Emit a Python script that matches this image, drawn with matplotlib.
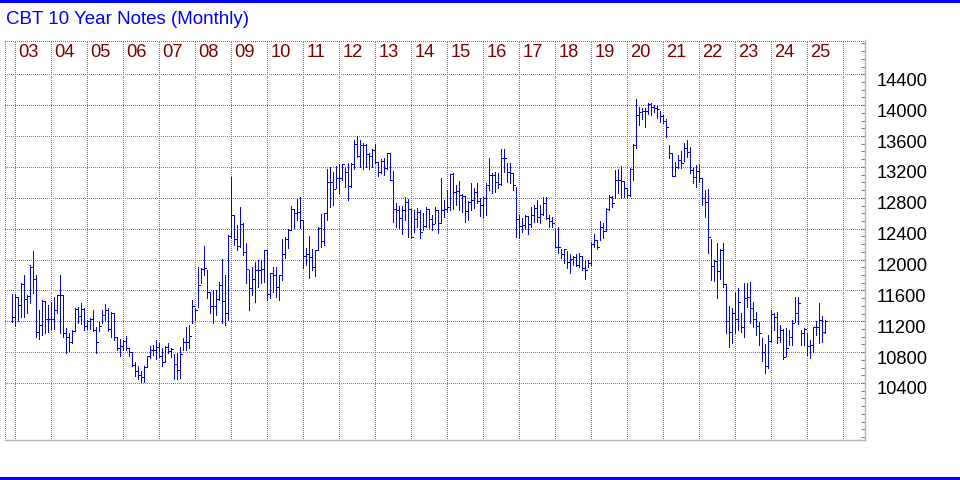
import matplotlib
matplotlib.use("Agg")
import matplotlib.pyplot as plt
import matplotlib.transforms as mtransforms
from matplotlib.lines import Line2D
import numpy as np

# ---- data: monthly high / low / close, Dec 2002 .. Jul 2025 ----
first_month = "2002-12"
highs = [11553,11553,11518,11690,11798,11540,11926,12107,11798,11346,11475,11466,11410,11454,11509,11540,11798,11540,11118,11045,
         11088,11368,11389,11432,11368,11217,11247,11346,11122,11196,11346,11423,11368,11325,11312,10993,10968,10959,11015,10852,
         10800,10671,10615,10550,10615,10753,10882,10895,10959,10916,10852,10873,10916,10857,10775,10784,10870,10978,11130,11151,
         11475,11367,11907,11886,12175,11864,11583,11605,11605,11713,12002,11799,12318,13073,12577,12447,12685,12469,12209,11864,
         11907,11972,11993,11993,12123,12123,11829,11907,11907,11799,12261,12287,12391,12693,12650,12780,12814,12512,12145,12304,
         12132,12123,12425,12590,12598,13168,13195,13138,13212,13238,13238,13203,13246,13255,13549,13601,13549,13506,13497,13385,
         13432,13497,13268,13298,13311,13376,13376,13147,12737,12693,12693,12806,12780,12650,12642,12663,12642,12598,12676,12650,
         12577,12676,12642,13052,12771,12901,13108,13117,12966,13017,12849,12823,12763,12996,12922,12996,12793,12806,12987,13311,
         13126,13139,13117,13428,13428,13255,13247,13117,12944,12577,12534,12577,12564,12676,12707,12771,12707,12806,12815,12577,
         12555,12413,12417,12132,12132,12115,12072,12050,12072,12080,12046,11994,11994,12231,12331,12253,12504,12469,12663,12836,
         12823,13160,13169,13212,13022,12923,13182,13497,14076,13981,13959,13959,14024,14033,14003,13990,13929,13873,13817,13483,
         13375,13267,13354,13410,13514,13548,13453,13203,13224,13237,13051,12900,12909,12261,11993,12209,12131,12209,11682,11397,
         11367,11583,11626,11302,11700,11700,11712,11453,11324,11194,10980,10900,11021,11345,11302,11324,11151,11095,11108,11086,
         11216,11518,11518,11086,11108,11043,10956,11129,11203,11440,11267,11216]
lows = [11196,11144,11208,11260,11251,11312,11432,11561,11002,10968,11024,11045,11066,11097,11097,11312,11054,11002,10787,10809,
        10916,11079,11174,11161,11088,11097,11097,11079,10787,11075,11183,11217,11079,11002,10959,10830,10744,10830,10830,10744,
        10615,10486,10456,10409,10409,10602,10722,10765,10714,10735,10615,10671,10787,10741,10447,10456,10460,10827,10827,10849,
        11173,11216,11389,11700,11799,11497,11302,11173,11281,11475,11173,11151,11216,12274,12188,12123,12166,12058,11691,11345,
        11540,11453,11648,11691,11713,11475,11497,11583,11518,11475,11734,12015,12145,12382,12404,12512,12404,11885,11929,11756,
        11864,11786,12123,12166,12188,12512,12676,12706,12922,12858,13030,12944,12771,12944,13169,13333,13203,13169,13203,13169,
        13203,13246,13082,13117,13095,13169,13030,12490,12426,12404,12331,12512,12296,12274,12361,12426,12274,12382,12426,12404,
        12382,12469,12339,12469,12555,12620,12642,12650,12706,12642,12620,12490,12512,12642,12663,12728,12564,12555,12577,12901,
        12858,12879,12923,12966,13138,13009,12996,12901,12296,12283,12361,12391,12331,12426,12491,12491,12478,12577,12521,12417,
        12417,12167,12080,12015,11959,11886,11830,11929,11916,11907,11864,11743,11907,11929,12167,12132,12253,12275,12370,12642,
        12685,12793,12858,12793,12815,12793,12823,13031,13441,13743,13817,13713,13886,13873,13916,13830,13787,13765,13592,13311,
        13082,13082,13181,13181,13280,13332,13116,12987,12943,13008,12706,12555,12088,11734,11725,11496,11743,11648,11051,10870,
        10922,11043,11086,11064,10991,11388,11172,11129,11021,10892,10690,10530,10589,10935,11086,10922,10935,10706,10749,10892,
        10892,11194,11164,10892,10892,10762,10719,10805,11021,10922,10935,11043]
closes = [11251,11509,11406,11677,11484,11527,11905,11742,11058,11148,11462,11226,11234,11230,11342,11535,11540,11045,10993,10925,
          11079,11355,11269,11355,11144,11200,11230,11088,10933,11140,11277,11346,11105,11303,10993,10856,10882,10950,10852,10804,
          10628,10550,10508,10482,10602,10744,10821,10830,10870,10744,10667,10860,10808,10840,10641,10568,10775,10935,10935,11009,
          11397,11346,11670,11873,11894,11583,11397,11397,11488,11670,11462,11302,12305,12577,12261,12175,12460,12093,11872,11635,
          11743,11864,11864,11872,12123,11553,11821,11799,11639,11799,12071,12261,12382,12650,12607,12620,12512,12045,12067,12028,
          11898,12123,12408,12244,12598,13000,13009,12909,13060,13060,13233,13130,12948,13242,13497,13341,13484,13484,13363,13341,
          13419,13268,13138,13281,13182,13376,13030,12650,12642,12534,12642,12750,12650,12287,12521,12620,12352,12434,12650,12521,
          12460,12642,12469,12642,12650,12676,13108,12879,12892,12836,12823,12633,12750,12771,12879,12763,12706,12793,12966,13100,
          13095,13009,12974,13311,13311,13140,13126,12966,12521,12434,12447,12564,12460,12577,12663,12555,12586,12737,12534,12499,
          12469,12167,12158,12072,12132,11972,12002,12037,11929,12046,11886,11864,11959,12201,12253,12167,12426,12374,12650,12806,
          12737,13031,13031,13022,12931,12836,13169,13484,13873,13916,13929,13929,14016,13981,13959,13946,13860,13800,13722,13375,
          13082,13203,13289,13246,13440,13397,13159,13073,13151,13051,12792,12740,12287,11915,11980,11851,12123,11682,11203,11056,
          11311,11224,11445,11129,11496,11518,11376,11224,11138,11043,10800,10615,10943,11289,11250,11000,11086,10740,10848,11000,
          11172,11311,11432,11043,11095,10879,10892,11121,11129,11216,11064,11207]
year_labels = ["03","04","05","06","07","08","09","10","11","12","13","14","15","16","17","18","19","20","21","22","23","24","25"]
price_ticks = [10400,10800,11200,11600,12000,12400,12800,13200,13600,14000,14400]
title = "CBT 10 Year Notes (Monthly)"

# ---- figure ----
plt.rcParams['font.family'] = ['Liberation Sans', 'DejaVu Sans']
W, H = 960, 480
fig = plt.figure(figsize=(W/100, H/100), dpi=100)
fig.patch.set_facecolor('white')
ax = fig.add_axes([5/W, 40/H, 860/W, 400/H])
ax.set_facecolor('white')

x = np.arange(len(closes))
ax.set_xlim(-2.43, 284.2)
ax.set_ylim(9661, 14845)

# grid (dotted)
dot = dict(color='#7a7a7a', linewidth=0.72, linestyle=(0, (1, 2)), antialiased=False, zorder=0)
for v in price_ticks:
    ax.axhline(v, **dot)
jan_idx = [1 + 12*k for k in range(len(year_labels) + 1)]
for j in jan_idx:
    ax.axvline(j, **dot)
ax.axvline(-2.3, **dot)
ax.axhline(14830, **dot)

# high-low-close bars
bc = '#0000ff'
w = 0.7
lw = 0.72
ax.vlines(x, lows, highs, color=bc, linewidth=lw, antialiased=False, zorder=3)
ax.hlines(closes, x, x + w, color=bc, linewidth=lw, antialiased=False, zorder=3)

# spines
for s in ['left', 'top']:
    ax.spines[s].set_visible(False)
for s in ['right', 'bottom']:
    ax.spines[s].set_color('#b4b4b4')
    ax.spines[s].set_linewidth(1.0)

ax.set_xticks([])
ax.yaxis.tick_right()
ax.set_yticks(price_ticks)
ax.set_yticks(np.arange(9700, 14801, 100), minor=True)
ax.tick_params(axis='y', which='both', direction='in', length=3, width=0.8,
               color='#808080', labelright=False, labelleft=False)

# price labels
for v in price_ticks:
    ax.annotate(f"{v}", xy=(1, v), xycoords=('axes fraction', 'data'),
                xytext=(11.5, -7.0), textcoords='offset pixels',
                ha='left', va='center', fontsize=13.2, color='black')

# year labels
trans = mtransforms.blended_transform_factory(ax.transData, ax.transAxes)
for j, lab in zip(jan_idx, year_labels):
    ax.text(j + 1.0, (440 - 53) / 400, lab, transform=trans, ha='left', va='center',
            fontsize=13.2, color='#800000')

# title
fig.text(6/W, 1 - 20/H, title, ha='left', va='center', fontsize=13.5, color='#0000ff')

# blue rules top & bottom
fig.add_artist(Line2D([0, 1], [1 - 1/H, 1 - 1/H], transform=fig.transFigure, color='#0000ff', linewidth=2.2))
fig.add_artist(Line2D([0, 1], [1 - 478/H, 1 - 478/H], transform=fig.transFigure, color='#0000ff', linewidth=2.2))

fig.savefig('out.png', dpi=100, facecolor='white')
